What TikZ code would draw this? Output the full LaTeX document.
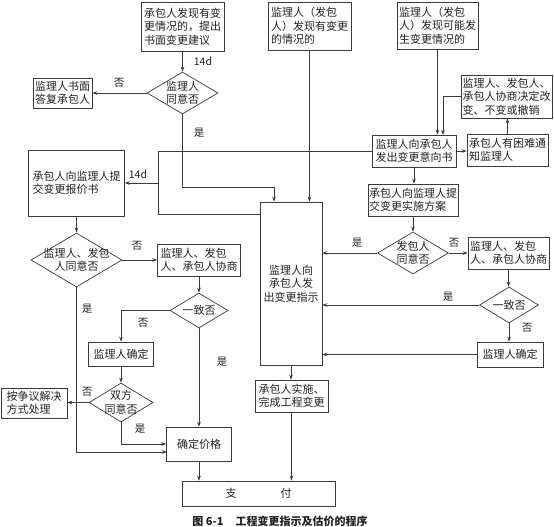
\documentclass[tikz,border=0pt]{standalone}
\usepackage{fontspec}
\setmainfont{Noto Sans CJK SC}
\usetikzlibrary{arrows.meta,shapes.geometric,calc}
\definecolor{lc}{HTML}{3A3A3A}
\definecolor{tc}{HTML}{222222}
\newcommand\fs{\fontsize{11}{13.5}\selectfont}
\newcommand\fsl{\fontsize{10.5}{12}\selectfont}
\tikzset{
  box/.style={draw=lc, line width=0.7pt, inner sep=2pt, align=left, font=\fs, text=tc},
  dia/.style={draw=lc, line width=0.7pt, diamond, inner sep=0pt},
  txt/.style={align=center, font=\fs, text=tc, inner sep=0pt},
  arr/.style={draw=lc, line width=0.7pt, -{Stealth[length=5pt,width=3.6pt]}},
  ln/.style={draw=lc, line width=0.7pt},
  lbl/.style={font=\fsl, text=tc, inner sep=0pt},
}
\begin{document}
\begin{tikzpicture}[x=1pt,y=-1pt]
\fill[white] (0,0) rectangle (554,527);
\useasboundingbox (0,0) rectangle (554,527);

% top boxes
\node[box, minimum width=83pt, minimum height=49pt] (A) at (182.5,26.5) {承包人发现有变\\更情况的，提出\\书面变更建议};
\node[box, minimum width=83pt, minimum height=48pt] (B) at (309.5,26) {监理人（发包\\人）发现有变更\\的情况的};
\node[box, minimum width=81pt, minimum height=47pt] (C) at (437.5,25.5) {监理人（发包\\人）发现可能发\\生变更情况的};
\node[box, minimum width=91pt, minimum height=43pt, inner sep=1pt] (D) at (506.5,96.5) {监理人、发包人、\\承包人协商决定改\\变、不变或撤销};
\node[box, minimum width=84pt, minimum height=32pt] (E) at (414,151) {监理人向承包人\\发出变更意向书};
\node[box, minimum width=81pt, minimum height=32pt] (F) at (507.5,150) {承包人有困难通\\知监理人};
\node[box, align=center, minimum width=62pt, minimum height=163pt] (G) at (291,283.5) {监理人向\\承包人发\\出变更指示};
\node[box, minimum width=90pt, minimum height=32pt, inner sep=1pt] (H) at (413,200) {承包人向监理人提\\交变更实施方案};
\node[box, minimum width=81pt, minimum height=32pt] (J) at (508.5,253) {监理人、发包\\人、承包人协商};
\node[box, minimum width=66pt, minimum height=25pt] (L) at (510,354.5) {监理人确定};
\node[box, minimum width=73pt, minimum height=32pt] (M) at (291.5,396) {承包人实施、\\完成工程变更};
\node[box, minimum width=153pt, minimum height=25pt] (N) at (258.5,493.5) {支\hspace{44pt}付};
\node[box, minimum width=59pt, minimum height=30pt] (Q) at (62.5,93) {监理人书面\\答复承包人};
\node[box, minimum width=96pt, minimum height=66pt, inner sep=1pt] (R) at (76.5,183) {承包人向监理人提\\交变更报价书};
\node[box, minimum width=83pt, minimum height=32pt] (T) at (199,260) {监理人、发包\\人、承包人协商};
\node[box, minimum width=65pt, minimum height=24pt] (V) at (121,354) {监理人确定};
\node[box, minimum width=66pt, minimum height=30pt] (Y) at (34,403) {按争议解决\\方式处理};
\node[box, minimum width=65pt, minimum height=34pt] (W) at (199,444) {确定价格};

% diamonds
\node[dia, minimum width=71pt, minimum height=42pt] (P) at (182.5,93) {};
\node[txt] (Pt) at (P) {监理人\\同意否};
\node[dia, minimum width=71pt, minimum height=42pt] (I) at (413,253) {};
\node[txt] (It) at (I) {发包人\\同意否};
\node[dia, minimum width=59pt, minimum height=36pt] (K) at (509,305) {};
\node[txt] (Kt) at (K) {一致否};
\node[dia, minimum width=91pt, minimum height=54pt] (S) at (76.5,260) {};
\node[txt] (St) at (S) {监理人、发包\\人同意否};
\node[dia, minimum width=58pt, minimum height=35pt] (U) at (199,310.5) {};
\node[txt] (Ut) at (U) {一致否};
\node[dia, minimum width=64pt, minimum height=39pt] (X) at (121,402.5) {};
\node[txt] (Xt) at (X) {双方\\同意否};

% helper coordinates
\coordinate (g1) at (274,187);
\coordinate (e2) at (443,135);
\coordinate (c1) at (158,151);
\coordinate (c2) at (158,214);
\coordinate (c3) at (158,183);
\coordinate (w2) at (167,452);

% connectors
\draw[arr] (A.south) -- (P.north);
\draw[arr] (P.west) -- (Q.east);
\draw[arr] (P.south) |- (g1) -- (g1 |- G.north);
\draw[arr] (B.south) -- (B.south |- G.north);
\draw[arr] (C.south) -- (C.south |- E.north);
\draw[arr] (D.west) -| (e2);
\draw[arr] (F.north) -- (F.north |- D.south);
\draw[arr] (E.east) -- (E.east -| F.west);
\draw[ln] (E.west) -- (E.west -| c1) -- (c2) -- (c2 -| G.west);
\draw[arr] (c3) -- (R.east);
\draw[arr] (E.south) -- (E.south |- H.north);
\draw[arr] (H.south) -- (I.north);
\draw[arr] (I.west) -- (I.west -| G.east);
\draw[arr] (I.east) -- (I.east -| J.west);
\draw[arr] (J.south) -- (J.south |- K.north);
\draw[arr] (K.west) -- (K.west -| G.east);
\draw[arr] (K.south) -- (K.south |- L.north);
\draw[arr] (L.west) -- (L.west -| G.east);
\draw[arr] (G.south) -- (G.south |- M.north);
\draw[arr] (M.south) -- (M.south |- N.north);
\draw[arr] (R.south) -- (S.north);
\draw[arr] (S.east) -- (S.east -| T.west);
\draw[arr] (T.south) -- (U.north);
\draw[arr] (U.west) -| (V.north);
\draw[arr] (U.south) -- (W.north);
\draw[arr] (V.south) -- (X.north);
\draw[arr] (X.west) -- (X.west -| Y.east);
\draw[arr] (X.south) |- (W.west);
\draw[arr] (S.south) |- (w2);
\draw[arr] (W.south) -- (W.south |- N.north);

% labels
\node[lbl] (l1) at (203,61) {14d};
\node[lbl] (l2) at (119,83) {否};
\node[lbl] (l3) at (199,133) {是};
\node[lbl] (l4) at (138,174) {14d};
\node[lbl] (l5) at (357,243) {是};
\node[lbl] (l6) at (454,243) {否};
\node[lbl] (l7) at (448,297) {是};
\node[lbl] (l8) at (527,328) {否};
\node[lbl] (l9) at (137,246) {否};
\node[lbl] (l10) at (87,309) {是};
\node[lbl] (l11) at (143,323) {否};
\node[lbl] (l12) at (222,362) {是};
\node[lbl] (l13) at (87,392) {否};
\node[lbl] (l14) at (140,429) {是};

% caption
\node[font=\fontsize{11}{13}\selectfont\bfseries, text=tc, inner sep=0pt] (cap) at (280,521) {图 6-1\hspace{12pt}工程变更指示及估价的程序};
\end{tikzpicture}
\end{document}
